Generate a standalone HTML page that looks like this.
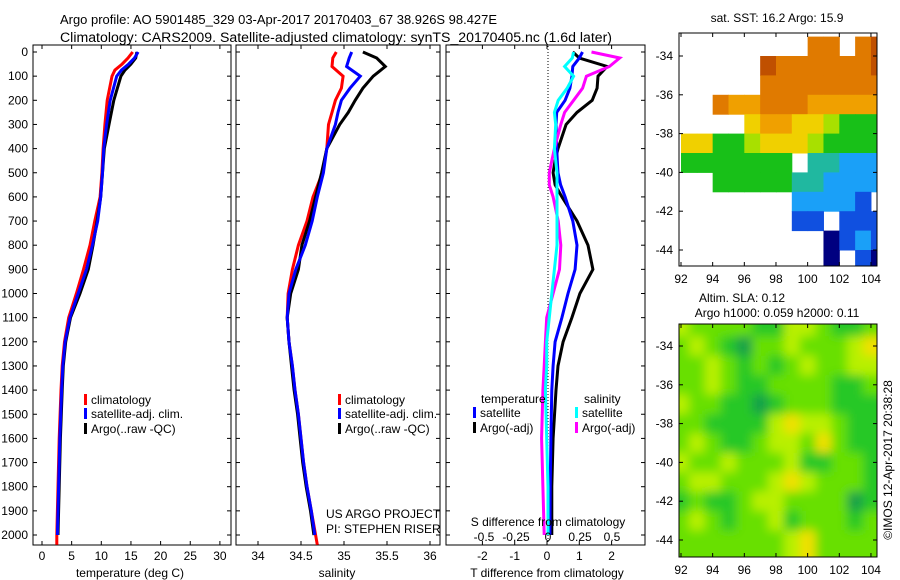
<!DOCTYPE html>
<html><head><meta charset="utf-8">
<style>
body{margin:0;background:#fff;}
svg{display:block;font-family:"Liberation Sans",sans-serif;}
</style></head>
<body>
<svg id="chart" width="900" height="580" viewBox="0 0 900 580" xmlns="http://www.w3.org/2000/svg">
<rect width="900" height="580" fill="#fff"/>
<text x="60" y="24" font-size="13" textLength="437" lengthAdjust="spacingAndGlyphs">Argo profile: AO 5901485_329 03-Apr-2017 20170403_67 38.926S 98.427E</text>
<text x="60" y="42" font-size="13.5" textLength="552" lengthAdjust="spacingAndGlyphs">Climatology: CARS2009. Satellite-adjusted climatology: synTS_20170405.nc (1.6d later)</text>
<g id="g1"></g>
<g id="g2"></g>
<g id="g3"></g>
<g id="m1"></g>
<g id="m2"></g>
<defs>
<clipPath id="clipm2"><rect x="679" y="324" width="198" height="233"/></clipPath>
<filter id="blur" x="-5%" y="-5%" width="110%" height="110%"><feGaussianBlur stdDeviation="5"/></filter>
</defs>
</svg>
<script>
// ---- profile data (depth in dbar) ----
const depthsT = [0,25,50,75,100,200,300,400,500,600,700,800,900,1000,1100,1200,1300,1400,1600,1800,2000];
const tempClim = [15.3,14.5,13.5,12.3,11.8,11.0,10.6,10.3,10.1,9.8,8.9,8.1,7.0,5.8,4.5,3.8,3.4,3.2,2.9,2.7,2.5];
const tempSat  = [16.2,15.6,14.6,13.4,12.6,11.5,10.9,10.4,10.2,9.9,9.4,8.5,7.5,6.1,4.7,3.9,3.5,3.3,3.0,2.8,2.6];
const tempArgo = [16.0,15.8,15.0,14.0,13.3,12.1,11.3,10.5,10.2,9.9,9.3,8.6,7.8,6.4,4.8,4.0,3.6,3.4,3.1,2.9,2.7];
const depthsS = [0,25,60,100,150,200,250,300,400,500,600,700,800,900,1000,1100,1200,1300,1400,1500,1600,1700,1800,1900,2000];
const salClim = [34.91,34.87,34.86,34.99,34.97,34.90,34.86,34.82,34.80,34.75,34.64,34.57,34.47,34.40,34.35,34.34,34.36,34.40,34.43,34.47,34.50,34.53,34.57,34.62,34.67];
const salSat  = [35.09,35.06,35.03,35.19,35.07,34.97,34.93,34.90,34.80,34.76,34.69,34.63,34.55,34.44,34.36,34.34,34.36,34.40,34.43,34.47,34.50,34.53,34.57,34.62,34.66];
const salArgo = [35.22,35.38,35.48,35.34,35.22,35.13,35.05,34.95,34.80,34.74,34.67,34.60,34.51,34.47,34.38,34.34,34.36,34.39,34.42,34.46,34.49,34.52,34.56,34.61,34.65];
const depthsD = [0,25,60,100,150,200,250,300,400,450,500,550,600,700,800,900,1000,1100,1200,1300,1400,1600,1800,2000];
const dTsat  = [1.1,1.0,0.8,0.77,0.71,0.56,0.3,0.28,0.3,0.32,0.34,0.42,0.56,0.8,0.93,0.87,0.65,0.46,0.25,0.19,0.15,0.12,0.1,0.09];
const dTargo = [0.8,1.0,1.86,1.58,1.55,1.4,0.93,0.59,0.34,0.25,0.19,0.25,0.46,0.93,1.27,1.42,1.02,0.77,0.5,0.34,0.28,0.19,0.15,0.15];
const dSsat  = [0.2,0.19,0.13,0.2,0.15,0.08,0.05,0.06,0.05,0.06,0.07,0.07,0.07,0.07,0.07,0.05,0.03,0.01,-0.01,-0.01,-0.02,-0.01,0.0,0.0];
const dSargo = [0.34,0.56,0.48,0.3,0.27,0.2,0.13,0.1,0.05,0.03,0.01,0.01,0.04,0.08,0.1,0.09,0.04,-0.01,-0.02,-0.03,-0.04,-0.05,-0.04,-0.03];
const tempTicks = [0,5,10,15,20,25,30];
const salTicks = [34,34.5,35,35.5,36];
const dTTicks = [-2,-1,0,1,2];
const dSTicks = [-0.5,-0.25,0,0.25,0.5];
const depthTicks = [0,100,200,300,400,500,600,700,800,900,1000,1100,1200,1300,1400,1500,1600,1700,1800,1900,2000];
// ---- map data: rows lat -33..-45 (1 deg), cols lon 92..104 ----
const sstGrid = [
"........88.89",
".....98888889",
".....88888888",
"..87788877777",
"....677665444",
"6644566654444",
"4444444.33222",
"..44444332222",
".......22221",
".......11.111",
".........0121",
".........0.10"];
const slaGrid = [
"3222211332112","2321022322234","2232121232233","2232112222112",
"3221101222111","2211113433211","2321123324211","3223222311221",
"2332223432221","1211233222201","2321223122212","2222222342222"];
const sstColors = ["#000080","#1050e0","#1aa0f8","#20b8a0","#18c018","#a8e000","#f0d000","#f0a000","#e07a00","#c05000"];
const slaColors = ["#18a048","#28c828","#68e000","#b8f000","#f0e000"];

const NS="http://www.w3.org/2000/svg";
function mk(parent,tag,attrs){const e=document.createElementNS(NS,tag);for(const k in attrs)e.setAttribute(k,attrs[k]);parent.appendChild(e);return e;}
const Y0=52, YS=0.2415;
function yD(d){return Y0+d*YS;}
function xT(v){return 42+v*5.93;}
function xS(v){return 258+(v-34)*86;}
function xDT(v){return 547+v*32.3;}
function xDS(v){return 548+v*128;}

function frame(g,x0,x1,ticks,xf,showDepth){
  const r=mk(g,'rect',{x:x0,y:45,width:x1-x0,height:500,fill:'none',stroke:'#000','stroke-width':1});
  
  
  depthTicks.forEach(d=>{
    mk(g,'line',{x1:x0,x2:x0+4,y1:yD(d),y2:yD(d),stroke:'#000'});
    mk(g,'line',{x1:x1-4,x2:x1,y1:yD(d),y2:yD(d),stroke:'#000'});
    if(showDepth){const t=mk(g,'text',{x:28,y:yD(d)+4,'font-size':12,'text-anchor':'end'});t.textContent=d;
      
      }
  });
  ticks.forEach(v=>{const x=xf(v);
    mk(g,'line',{x1:x,x2:x,y1:45,y2:49,stroke:'#000'});
    mk(g,'line',{x1:x,x2:x,y1:541,y2:545,stroke:'#000'});
    const t=mk(g,'text',{x:x,y:560,'font-size':12,'text-anchor':'middle'});t.textContent=v;
    
    
  });
}
function line(g,xs,ds,xf,color,name){
  const pts=xs.map((v,i)=>xf(v).toFixed(1)+','+yD(ds[i]).toFixed(1)).join(' ');
  const p=mk(g,'polyline',{points:pts,fill:'none',stroke:color,'stroke-width':3,'stroke-linejoin':'miter'});
  
  
}
function txt(g,x,y,s,str,name,anchor){const t=mk(g,'text',{x:x,y:y,'font-size':s,'text-anchor':anchor||'start'});t.textContent=str;
  
  return t;}
function legend(g,x,y,color,label){
  mk(g,'rect',{x:x,y:y-10,width:3,height:11,fill:color});
  txt(g,x+7,y,12,label,'legend-entry');
}

// Panel 1
const g1=document.getElementById('g1');
frame(g1,33,231,tempTicks,xT,true);
line(g1,tempClim.concat([2.5]),depthsT.concat([2040]),xT,'#f00','climatology-temp-line');
line(g1,tempArgo,depthsT,xT,'#000','argo-temp-line');
line(g1,tempSat,depthsT,xT,'#00f','satellite-temp-line');
legend(g1,84,404,'#f00','climatology');
legend(g1,84,418,'#00f','satellite-adj. clim.');
legend(g1,84,433,'#000','Argo(..raw -QC)');
txt(g1,130,577,12,'temperature (deg C)','x-axis-title','middle');

// Panel 2
const g2=document.getElementById('g2');
frame(g2,236,440,salTicks,xS,false);
line(g2,salClim.concat([34.69]),depthsS.concat([2040]),xS,'#f00','climatology-salinity-line');
line(g2,salArgo,depthsS,xS,'#000','argo-salinity-line');
line(g2,salSat,depthsS,xS,'#00f','satellite-salinity-line');
legend(g2,338,404,'#f00','climatology');
legend(g2,338,418,'#00f','satellite-adj. clim.');
legend(g2,338,433,'#000','Argo(..raw -QC)');
txt(g2,326,518,12,'US ARGO PROJECT','credit-project');
txt(g2,326,533,12,'PI: STEPHEN RISER','credit-pi');
txt(g2,337,577,12,'salinity','x-axis-title','middle');

// Panel 3
const g3=document.getElementById('g3');
frame(g3,446,645,dTTicks,xDT,false);
mk(g3,'line',{x1:548,x2:548,y1:46,y2:544,stroke:'#000','stroke-dasharray':'1,2'});
line(g3,dTargo,depthsD,xDT,'#000','argo-temp-diff-line');
line(g3,dTsat,depthsD,xDT,'#00f','satellite-temp-diff-line');
line(g3,dSargo,depthsD,xDS,'#f0f','argo-salinity-diff-line');
line(g3,dSsat,depthsD,xDS,'#0ff','satellite-salinity-diff-line');
txt(g3,481,403,12,'temperature','legend-heading-temperature');
txt(g3,584,403,12,'salinity','legend-heading-salinity');
legend(g3,473,417,'#00f','satellite');
legend(g3,473,432,'#000','Argo(-adj)');
legend(g3,575,417,'#0ff','satellite');
legend(g3,575,432,'#f0f','Argo(-adj)');
txt(g3,548,526,12,'S difference from climatology','s-axis-title','middle');
dSTicks.forEach(v=>{txt(g3,xDS(v),541,12,String(v),'s-tick-label','middle');});
txt(g3,547,577,12,'T difference from climatology','x-axis-title','middle');

// Maps
function xLon(l){return 681+(l-92)*15.83;}
function mapFrame(g,top,yLat){
  const lats=[-34,-36,-38,-40,-42,-44];
  lats.forEach(l=>{const y=yLat(l);
    mk(g,'line',{x1:679,x2:683,y1:y,y2:y,stroke:'#000'});
    mk(g,'line',{x1:873,x2:877,y1:y,y2:y,stroke:'#000'});
    txt(g,673,y+4,12,String(l),'lat-tick-label','end');});
  [92,94,96,98,100,102,104].forEach(l=>{const x=xLon(l);
    mk(g,'line',{x1:x,x2:x,y1:top,y2:top+4,stroke:'#000'});
    mk(g,'line',{x1:x,x2:x,y1:top+229,y2:top+233,stroke:'#000'});
    txt(g,x,top+250,12,String(l),'lon-tick-label','middle');});
  const r=mk(g,'rect',{x:679,y:top,width:198,height:233,fill:'none',stroke:'#000'});
  
  
}
const m1=document.getElementById('m1');
const yL1=l=>56+(-34-l)*19.4;
sstGrid.forEach((row,ri)=>{
  for(let ci=0;ci<row.length&&ci<13;ci++){const c=row[ci]; if(c==='.')continue;
    const lon=92+ci, lat=-33-ri;
    const x0=Math.max(679,xLon(lon)), x1=Math.min(877,xLon(lon+1));
    const y0=Math.max(33,yL1(lat)), y1=Math.min(266,yL1(lat-1));
    const cell=mk(m1,'rect',{x:x0,y:y0,width:x1-x0+0.5,height:y1-y0+0.5,fill:sstColors[+c]});
    
    
  }});
mapFrame(m1,33,yL1);
txt(m1,777,22,12,'sat. SST: 16.2 Argo: 15.9','sst-map-title','middle');

const m2=document.getElementById('m2');
const yL2=l=>346+(-34-l)*19.4;
const cg=mk(m2,'g',{'clip-path':'url(#clipm2)'});
mk(cg,'rect',{x:679,y:324,width:198,height:233,fill:slaColors[2]});
const bg=mk(cg,'g',{filter:'url(#blur)'});
slaGrid.forEach((row,ri)=>{
  for(let ci=0;ci<13;ci++){const c=row[ci];
    const lon=92+ci-0.5, lat=-33-ri+0.5;
    const x0=xLon(lon), x1=xLon(lon+1), y0=yL2(lat), y1=yL2(lat-1);
    const ex=(ci===0?-20:0), ex2=(ci===12?20:0), ey=(ri===0?-20:0), ey2=(ri===11?20:0);
    const cell=mk(bg,'rect',{x:x0+ex,y:y0+ey,width:x1-x0+1-ex+ex2,height:y1-y0+1-ey+ey2,fill:slaColors[+c]});
    
    
  }});
mapFrame(m2,324,yL2);
txt(m2,742,302,12,'Altim. SLA: 0.12','sla-map-title','middle');
txt(m2,777,317,12,'Argo h1000: 0.059 h2000: 0.11','sla-map-subtitle','middle');
const rt=txt(m2,0,0,12,'\u00A9IMOS 12-Apr-2017 20:38:28','timestamp-label','middle');
rt.setAttribute('transform','translate(892,460) rotate(-90)');
</script>
</body></html>
